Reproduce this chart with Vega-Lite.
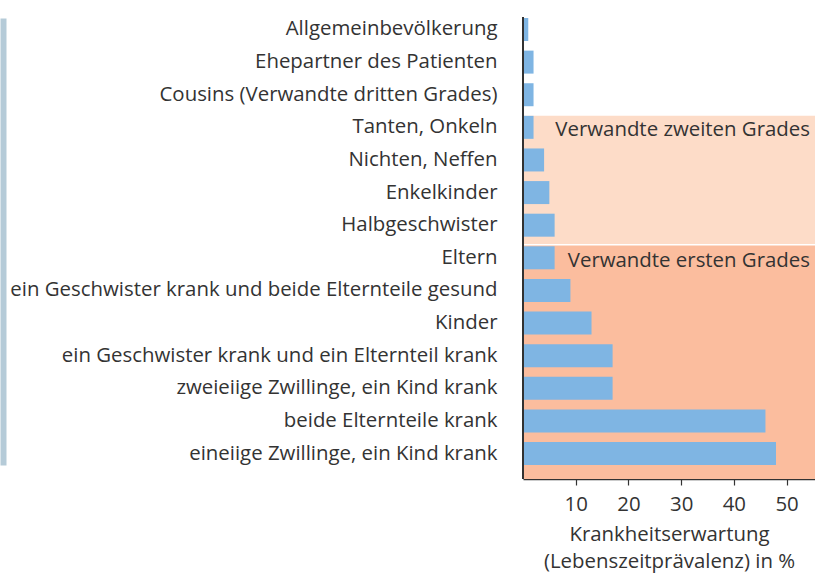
{
  "$schema": "https://vega.github.io/schema/vega-lite/v6.json",
  "width": 292,
  "height": 462,
  "autosize": {"type": "none"},
  "padding": {"left": 523, "top": 17, "right": 0, "bottom": 97},
  "background": "white",
  "config": {
    "view": {"stroke": null},
    "font": "Open Sans",
    "axis": {"grid": false, "labelColor": "#333333", "titleColor": "#333333", "labelFont": "Open Sans", "titleFont": "Open Sans"}
  },
  "datasets": {
    "werte": [
      {"k": "Allgemeinbevölkerung", "v": 1},
      {"k": "Ehepartner des Patienten", "v": 2},
      {"k": "Cousins (Verwandte dritten Grades)", "v": 2},
      {"k": "Tanten, Onkeln", "v": 2},
      {"k": "Nichten, Neffen", "v": 4},
      {"k": "Enkelkinder", "v": 5},
      {"k": "Halbgeschwister", "v": 6},
      {"k": "Eltern", "v": 6},
      {"k": "ein Geschwister krank und beide Elternteile gesund", "v": 9},
      {"k": "Kinder", "v": 13},
      {"k": "ein Geschwister krank und ein Elternteil krank", "v": 17},
      {"k": "zweieiige Zwillinge, ein Kind krank", "v": 17},
      {"k": "beide Elternteile krank", "v": 46},
      {"k": "eineiige Zwillinge, ein Kind krank", "v": 48}
    ],
    "bereiche": [
      {"grad": "zweiten", "von": "Tanten, Onkeln", "bis": "Eltern", "label": "Verwandte zweiten Grades"},
      {"grad": "ersten", "von": "Eltern", "bis": null, "label": "Verwandte ersten Grades"}
    ]
  },
  "layer": [
    {
      "data": {"name": "bereiche"},
      "transform": [{"filter": "datum.grad == 'zweiten'"}],
      "mark": {"type": "rect", "yOffset": -11.5, "y2Offset": -13.8},
      "encoding": {
        "y": {"field": "von", "type": "nominal", "axis": null},
        "y2": {"field": "bis"},
        "x": {"datum": 0, "type": "quantitative"},
        "x2": {"datum": 55.4},
        "color": {"field": "grad", "type": "nominal", "legend": null, "scale": {"domain": ["zweiten", "ersten"], "range": ["#fddcc8", "#fbbd9e"]}}
      }
    },
    {
      "data": {"name": "bereiche"},
      "transform": [{"filter": "datum.grad == 'ersten'"}],
      "mark": {"type": "rect", "yOffset": -12.3},
      "encoding": {
        "y": {"field": "von", "type": "nominal", "axis": null},
        "y2": {"value": "height"},
        "x": {"datum": 0, "type": "quantitative"},
        "x2": {"datum": 55.4},
        "color": {"field": "grad", "type": "nominal", "legend": null}
      }
    },
    {
      "data": {"name": "werte"},
      "mark": {"type": "bar", "color": "#7fb5e3"},
      "encoding": {
        "y": {
          "field": "k", "type": "nominal", "sort": null,
          "scale": {
            "domain": ["Allgemeinbevölkerung", "Ehepartner des Patienten", "Cousins (Verwandte dritten Grades)", "Tanten, Onkeln", "Nichten, Neffen", "Enkelkinder", "Halbgeschwister", "Eltern", "ein Geschwister krank und beide Elternteile gesund", "Kinder", "ein Geschwister krank und ein Elternteil krank", "zweieiige Zwillinge, ein Kind krank", "beide Elternteile krank", "eineiige Zwillinge, ein Kind krank"],
            "range": [1, 448],
            "paddingInner": 0.295,
            "paddingOuter": 0
          },
          "axis": {"title": null, "domain": false, "ticks": false, "labelFontSize": 20.4, "labelPadding": 26, "labelLimit": 600}
        },
        "x": {
          "field": "v", "type": "quantitative",
          "scale": {"domain": [0, 55.4], "nice": false, "zero": true},
          "axis": {
            "values": [10, 20, 30, 40, 50],
            "domain": true, "domainColor": "#333333", "domainWidth": 1.5,
            "ticks": true, "tickColor": "#333333", "tickWidth": 1.2, "tickSize": 6,
            "labelFontSize": 20.4, "labelPadding": 9,
            "title": ["Krankheitserwartung", "(Lebenszeitprävalenz) in %"],
            "titleFontSize": 20.4, "titleFontWeight": "normal", "titlePadding": 10, "titleLineHeight": 27
          }
        }
      }
    },
    {
      "data": {"name": "bereiche"},
      "mark": {"type": "text", "align": "right", "baseline": "alphabetic", "dx": -5, "dy": 9, "fontSize": 20.4, "color": "#333333", "font": "Open Sans"},
      "encoding": {
        "y": {"field": "von", "type": "nominal", "axis": {"orient": "left", "offset": 520, "domain": true, "domainColor": "#b5cbd8", "domainWidth": 6, "labels": false, "ticks": false, "title": null}},
        "x": {"datum": 55.4, "type": "quantitative"},
        "text": {"field": "label"}
      }
    },
    {
      "data": {"name": "werte"},
      "mark": {"type": "rule", "color": "#333333", "strokeWidth": 1.5},
      "encoding": {"x": {"datum": 0, "type": "quantitative"}}
    }
  ],
  "resolve": {"axis": {"y": "independent"}}
}
